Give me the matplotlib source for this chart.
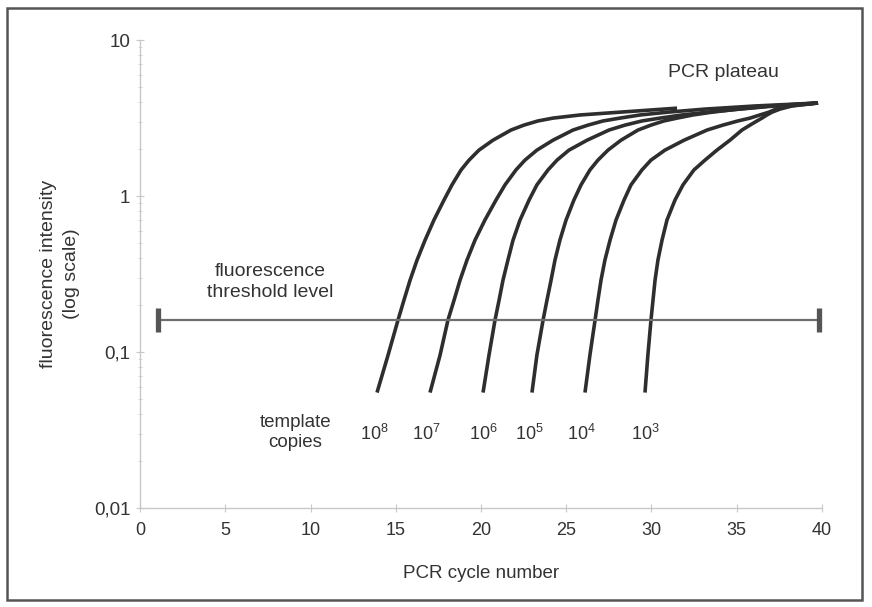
import matplotlib
matplotlib.use('Agg')
import matplotlib.pyplot as plt
from matplotlib.patches import Rectangle

plt.rcParams['font.family'] = ['Liberation Sans', 'DejaVu Sans']
plt.rcParams['mathtext.fontset'] = 'custom'
plt.rcParams['mathtext.rm'] = 'Liberation Sans'

levels = [0.055, 0.0957, 0.160, 0.215, 0.289, 0.389, 0.522, 0.702, 0.943, 1.18, 1.47, 1.70,
          1.97, 2.28, 2.65, 2.85, 3.03, 3.16, 3.31, 3.45, 3.61, 3.78, 3.95]

# cycle number where each curve reaches those levels
c8_x = [13.90, 14.55, 15.13, 15.48, 15.84, 16.25, 16.72, 17.24, 17.83, 18.30, 18.83,
        19.30, 19.88, 20.70, 21.76, 22.52, 23.34, 24.22, 25.81, 28.15, 31.50]
c8_y = levels[:20] + [3.66]

c7_x = [17.01, 17.60, 18.06, 18.42, 18.77, 19.18, 19.65, 20.23, 20.88, 21.41, 22.05, 22.58,
        23.28, 24.22, 25.40, 26.28, 27.16, 28.15, 29.33, 30.97, 33.14, 36.07, 39.77]
c6_x = [20.12, 20.47, 20.82, 21.06, 21.29, 21.58, 21.88, 22.29, 22.82, 23.28, 23.93, 24.46,
        25.16, 26.22, 27.51, 28.45, 29.44, 30.50, 31.79, 33.31, 35.19, 37.24, 39.77]
c5_x = [22.99, 23.28, 23.64, 23.87, 24.11, 24.34, 24.63, 24.99, 25.45, 25.87, 26.39, 26.86,
        27.45, 28.21, 29.21, 29.97, 30.73, 31.50, 32.43, 33.55, 35.07, 36.95, 39.77]
c4_x = [26.10, 26.39, 26.69, 26.86, 27.04, 27.27, 27.57, 27.92, 28.39, 28.80, 29.44, 29.97,
        30.79, 31.91, 33.26, 34.19, 35.07, 35.78, 36.36, 36.89, 37.30, 38.06, 39.77]
c3_x = [29.62, 29.79, 29.97, 30.09, 30.21, 30.38, 30.62, 30.91, 31.38, 31.85, 32.49, 33.14,
        33.84, 34.60, 35.31, 35.78, 36.19, 36.48, 36.77, 37.07, 37.54, 38.24, 39.77]

curves = [(c8_x, c8_y), (c7_x, levels), (c6_x, levels), (c5_x, levels), (c4_x, levels), (c3_x, levels)]

copy_labels = [r'$\mathregular{10^8}$', r'$\mathregular{10^7}$', r'$\mathregular{10^6}$',
               r'$\mathregular{10^5}$', r'$\mathregular{10^4}$', r'$\mathregular{10^3}$']
copy_label_x = [13.72, 16.77, 20.12, 22.82, 25.87, 29.62]

threshold = 0.16
threshold_x = [1.06, 39.8]

x_ticks = [0, 5, 10, 15, 20, 25, 30, 35, 40]
y_ticks = [0.01, 0.1, 1, 10]
y_tick_labels = ['0,01', '0,1', '1', '10']

txt = '#333333'

fig = plt.figure(figsize=(8.72, 6.07), dpi=100)
ax = fig.add_axes([0.1606, 0.163, 0.782, 0.771])

for xs, ys in curves:
    ax.plot(xs, ys, color='#2e2e2e', lw=2.6, solid_capstyle='butt', solid_joinstyle='round')

ax.plot(threshold_x, [threshold, threshold], color='#6e6e6e', lw=1.6)
ax.plot(threshold_x, [threshold, threshold], ls='none', marker='|', ms=17, mew=3.8, color='#555555')

for lab, lx in zip(copy_labels, copy_label_x):
    ax.text(lx, 0.0298, lab, ha='center', va='center', fontsize=13, color=txt)

ax.text(9.1, 0.0305, 'template\ncopies', ha='center', va='center', fontsize=13.5,
        color=txt, linespacing=1.2)
ax.text(7.62, 0.282, 'fluorescence\nthreshold level', ha='center', va='center', fontsize=14,
        color=txt, linespacing=1.3)
ax.text(34.2, 6.2, 'PCR plateau', ha='center', va='center', fontsize=14, color=txt)

ax.set_yscale('log')
ax.set_xlim(0, 40)
ax.set_ylim(0.01, 10)
ax.set_xticks(x_ticks)
ax.set_yticks(y_ticks, labels=y_tick_labels)

for s in ['top', 'right']:
    ax.spines[s].set_visible(False)
for s in ['left', 'bottom']:
    ax.spines[s].set_color('#c8c8c8')
    ax.spines[s].set_linewidth(1.0)

ax.tick_params(axis='both', which='major', direction='inout', length=6, width=0.8,
               color='#c8c8c8', labelcolor=txt)
ax.tick_params(axis='x', labelsize=13, pad=7)
ax.tick_params(axis='y', labelsize=13.5, pad=4)
ax.tick_params(axis='y', which='minor', direction='inout', length=3, width=0.6,
               color='#d0d0d0', labelleft=False)

ax.set_xlabel('PCR cycle number', fontsize=13.5, color=txt, labelpad=19)
ax.set_ylabel('fluorescence intensity\n(log scale)', fontsize=14, color=txt, linespacing=1.45)
ax.yaxis.set_label_coords(-0.088, 0.5)

fig.patches.append(Rectangle((0.008, 0.012), 0.981, 0.975, transform=fig.transFigure,
                             fill=False, edgecolor='#555555', lw=1.8))

fig.savefig('out.png', dpi=100)
